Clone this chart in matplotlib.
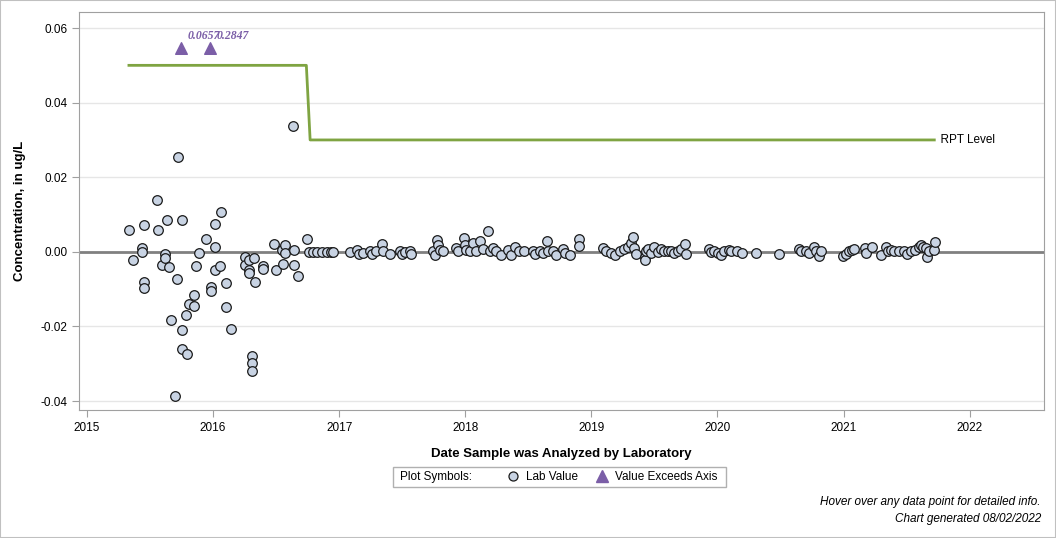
import matplotlib.pyplot as plt
from matplotlib.lines import Line2D
from matplotlib.patches import Rectangle

plt.rcParams['font.family'] = ['Liberation Sans', 'DejaVu Sans']

# sample dates (decimal years) and lab values, ug/L
years = [
    2015.335, 2015.367, 2015.438, 2015.438, 2015.454, 2015.454, 2015.454, 2015.557,
    2015.565, 2015.597, 2015.620, 2015.620, 2015.636, 2015.652, 2015.668, 2015.700,
    2015.716, 2015.723, 2015.755, 2015.755, 2015.755, 2015.787, 2015.795, 2015.811,
    2015.850, 2015.850, 2015.866, 2015.890, 2015.945, 2015.980, 2015.980, 2016.017,
    2016.017, 2016.017, 2016.059, 2016.067, 2016.104, 2016.104, 2016.139, 2016.254,
    2016.254, 2016.286, 2016.286, 2016.286, 2016.310, 2016.310, 2016.310, 2016.326,
    2016.334, 2016.397, 2016.397, 2016.484, 2016.500, 2016.548, 2016.556, 2016.571,
    2016.571, 2016.632, 2016.643, 2016.643, 2016.674, 2016.746, 2016.759, 2016.791,
    2016.823, 2016.862, 2016.902, 2016.933, 2016.949,
    2017.090, 2017.142, 2017.158, 2017.189, 2017.242, 2017.264, 2017.290, 2017.343,
    2017.348, 2017.401, 2017.480, 2017.502, 2017.520, 2017.559, 2017.573,
    2017.744, 2017.758, 2017.776, 2017.784, 2017.797, 2017.823, 2017.929, 2017.942,
    2017.987, 2017.995, 2018.009, 2018.035, 2018.061, 2018.087, 2018.119, 2018.140,
    2018.180, 2018.193, 2018.219, 2018.246, 2018.286, 2018.338, 2018.365, 2018.391,
    2018.423, 2018.465, 2018.536, 2018.555, 2018.590, 2018.616, 2018.650, 2018.655,
    2018.695, 2018.721, 2018.774, 2018.788, 2018.827, 2018.906, 2018.906,
    2019.091, 2019.117, 2019.157, 2019.189, 2019.231, 2019.263, 2019.289, 2019.316,
    2019.329, 2019.342, 2019.356, 2019.422, 2019.422, 2019.436, 2019.453, 2019.474,
    2019.501, 2019.527, 2019.554, 2019.580, 2019.606, 2019.633, 2019.659, 2019.685,
    2019.712, 2019.746, 2019.751, 2019.937, 2019.949, 2019.976, 2020.002, 2020.029,
    2020.055, 2020.095, 2020.108, 2020.153, 2020.195, 2020.306, 2020.491,
    2020.650, 2020.663, 2020.702, 2020.729, 2020.768, 2020.782, 2020.808, 2020.821,
    2020.993, 2021.019, 2021.046, 2021.067, 2021.086, 2021.173, 2021.178, 2021.226,
    2021.297, 2021.336, 2021.350, 2021.376, 2021.402, 2021.442, 2021.482, 2021.500,
    2021.534, 2021.569, 2021.595, 2021.614, 2021.632, 2021.653, 2021.666, 2021.680,
    2021.719, 2021.727,
]
values = [
    0.0058, -0.0021, 0.0010, 0.0000, 0.0072, -0.0080, -0.0096, 0.0139,
    0.0058, -0.0035, -0.0005, -0.0017, 0.0085, -0.0041, -0.0183, -0.0387,
    -0.0072, 0.0254, 0.0085, -0.0210, -0.0261, -0.0169, -0.0274, -0.0140,
    -0.0116, -0.0146, -0.0038, -0.0003, 0.0034, -0.0094, -0.0106, 0.0074,
    0.0013, -0.0048, -0.0038, 0.0107, -0.0084, -0.0147, -0.0207, -0.0014,
    -0.0035, -0.0023, -0.0048, -0.0057, -0.0280, -0.0298, -0.0319, -0.0017,
    -0.0080, -0.0039, -0.0046, 0.0021, -0.0048, 0.0005, -0.0033, 0.0018,
    -0.0003, 0.0338, 0.0005, -0.0035, -0.0064, 0.0034, 0.0000, 0.0000,
    0.0000, 0.0000, 0.0000, 0.0000, 0.0000,
    0.0000, 0.0005, -0.0006, -0.0002, 0.0003, -0.0005, 0.0001, 0.0021,
    0.0003, -0.0005, 0.0003, -0.0005, 0.0000, 0.0003, -0.0005,
    0.0003, -0.0008, 0.0032, 0.0019, 0.0005, 0.0003, 0.0010, 0.0003,
    0.0037, 0.0019, 0.0005, 0.0003, 0.0023, 0.0003, 0.0028, 0.0008,
    0.0056, 0.0001, 0.0010, 0.0001, -0.0008, 0.0005, -0.0008, 0.0014,
    0.0003, 0.0001, 0.0003, -0.0006, 0.0003, -0.0003, 0.0028, 0.0003,
    0.0001, -0.0008, 0.0008, -0.0003, -0.0008, 0.0035, 0.0017,
    0.0010, 0.0003, -0.0003, -0.0008, 0.0003, 0.0008, 0.0014, 0.0023,
    0.0041, 0.0010, -0.0006, -0.0013, -0.0021, 0.0001, 0.0008, -0.0003,
    0.0012, -0.0001, 0.0008, 0.0003, 0.0001, 0.0003, -0.0003, 0.0001,
    0.0008, 0.0021, -0.0006, 0.0008, -0.0001, 0.0003, -0.0003, -0.0008,
    0.0003, 0.0005, 0.0003, 0.0003, -0.0003, -0.0003, -0.0006,
    0.0008, 0.0001, 0.0003, -0.0003, 0.0012, 0.0001, -0.0010, 0.0003,
    -0.0010, -0.0006, 0.0001, 0.0005, 0.0008, 0.0010, -0.0003, 0.0014,
    -0.0008, 0.0012, 0.0003, 0.0005, 0.0003, 0.0001, 0.0003, -0.0006,
    0.0003, 0.0005, 0.0012, 0.0019, 0.0014, 0.0010, -0.0015, 0.0003,
    0.0005, 0.0026,
]

# values above the axis maximum, shown as triangles
over_years = [2015.745, 2015.975]
over_values = [0.0657, 0.2847]
over_plot_y = 0.0546

# reporting level (step line)
rpt_years = [2015.333, 2016.74, 2016.77, 2021.72]
rpt_levels = [0.05, 0.05, 0.03, 0.03]

xticks = [2015, 2016, 2017, 2018, 2019, 2020, 2021, 2022]
yticks = [-0.04, -0.02, 0.0, 0.02, 0.04, 0.06]

green = '#7fa442'
purple = '#7b5ea7'
face = '#c8d3e3'

fig = plt.figure(figsize=(10.56, 5.38), dpi=100)
fig.patches.append(Rectangle((0, 0), 1, 1, transform=fig.transFigure, fill=False,
                             edgecolor='#c0c0c0', linewidth=1.5))
ax = fig.add_axes([79 / 1056, 1 - 410 / 538, 965 / 1056, 398 / 538])

ax.set_xlim(2014.937, 2022.59)
ax.set_ylim(-0.0424, 0.0643)
ax.set_yticks(yticks)
ax.set_yticklabels(['-0.04', '-0.02', '0.00', '0.02', '0.04', '0.06'])
ax.set_xticks(xticks)
ax.set_xticklabels([str(t) for t in xticks])
ax.grid(axis='y', color='#e6e6e6', linewidth=1)
ax.set_axisbelow(True)
for s in ax.spines.values():
    s.set_color('#a0a0a0')
ax.tick_params(colors='#a0a0a0', labelcolor='black', labelsize=8.5, length=5)

ax.axhline(0, color='#808080', linewidth=2, zorder=1)
ax.plot(rpt_years, rpt_levels, color=green, linewidth=2, zorder=2)
ax.text(rpt_years[-1], rpt_levels[-1], '  RPT Level', va='center', ha='left', fontsize=8.5)

ax.scatter(years, values, s=48, facecolor=face, edgecolor='#1a1a1a', linewidth=0.9, zorder=3)
ax.scatter(over_years, [over_plot_y] * 2, marker='^', s=70, color=purple, zorder=3)
for xv, v in zip(over_years, over_values):
    ax.annotate(f'{v:.4f}', (xv, over_plot_y), xytext=(7, 12), textcoords='offset pixels',
                ha='left', va='center', fontsize=8.5, color=purple,
                family='Liberation Serif', fontweight='bold', fontstyle='italic')

ax.set_xlabel('Date Sample was Analyzed by Laboratory', fontsize=9.5, fontweight='bold', labelpad=10)
ax.set_ylabel('Concentration, in ug/L', fontsize=9.5, fontweight='bold', labelpad=10)

# legend box
fig.patches.append(Rectangle((393 / 1056, 1 - 487 / 538), 333 / 1056, 20 / 538,
                             transform=fig.transFigure, fill=False,
                             edgecolor='#b0b0b0', linewidth=1))
fig.text(400 / 1056, 1 - 477 / 538, 'Plot Symbols:', va='center', fontsize=8.5)
handles = [Line2D([], [], marker='o', linestyle='', markersize=6.5, markerfacecolor=face,
                  markeredgecolor='#1a1a1a', markeredgewidth=0.9),
           Line2D([], [], marker='^', linestyle='', markersize=8, color=purple)]
fig.legend(handles, ['Lab Value', 'Value Exceeds Axis'], ncol=2, frameon=False,
           loc='center left', bbox_to_anchor=(495 / 1056, 1 - 477 / 538),
           fontsize=8.5, handlelength=1.2, handletextpad=0.5, columnspacing=1.5)

fig.text(1041 / 1056, 1 - 502 / 538, 'Hover over any data point for detailed info.',
         ha='right', va='center', fontsize=8.5, fontstyle='italic')
fig.text(1041 / 1056, 1 - 519 / 538, 'Chart generated 08/02/2022',
         ha='right', va='center', fontsize=8.5, fontstyle='italic')

plt.savefig('out.png', dpi=100)
